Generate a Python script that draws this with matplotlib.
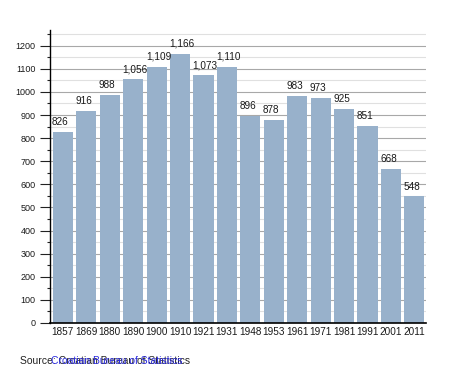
import matplotlib
matplotlib.use("Agg")
import matplotlib.pyplot as plt
from matplotlib.ticker import MultipleLocator

plt.rcParams["font.family"] = ["Liberation Sans", "DejaVu Sans"]

years = ["1857", "1869", "1880", "1890", "1900", "1910", "1921", "1931",
         "1948", "1953", "1961", "1971", "1981", "1991", "2001", "2011"]
population = [826, 916, 988, 1056, 1109, 1166, 1073, 1110,
              896, 878, 983, 973, 925, 851, 668, 548]

BAR_COLOR = "#98b1cb"
WIDTH = 0.86

fig = plt.figure(figsize=(4.55, 3.73), dpi=100)
ax = fig.add_axes([50 / 455, 1 - 323 / 373, 376 / 455, 293 / 373])

x = range(len(years))
ax.bar(x, population, width=WIDTH, color=BAR_COLOR, zorder=2)
# labels sit on the bar's left edge, a little above its top
for i, v in enumerate(population):
    ax.annotate(f"{v:,}", (i - WIDTH / 2, v), xytext=(-0.5, 3.5),
                textcoords="offset points", ha="left", va="bottom",
                fontsize=7.2, color="#1a1a1a", zorder=3)

ax.set_xlim(-0.55, len(years) - 0.5)
ax.set_ylim(0, 1268)
ax.set_xticks(list(x))
ax.set_xticklabels(years, fontsize=7.2, color="#1a1a1a")
ax.tick_params(axis="x", length=0, pad=3)
ax.yaxis.set_major_locator(MultipleLocator(100))
ax.yaxis.set_minor_locator(MultipleLocator(50))
ax.tick_params(axis="y", which="major", length=7.5, labelsize=6.5, width=0.8,
               pad=3, color="#222222", labelcolor="#1a1a1a")
ax.tick_params(axis="y", which="minor", length=2, width=0.8, color="#222222")
ax.grid(axis="y", which="major", color="#a8a8a8", lw=0.8, zorder=0)
ax.grid(axis="y", which="minor", color="#e0e0e0", lw=0.8, zorder=0)
ax.set_axisbelow(True)
for s in ("top", "right"):
    ax.spines[s].set_visible(False)
ax.spines["left"].set_linewidth(1)
ax.spines["bottom"].set_linewidth(1.2)

fig.text(20 / 455, 1 - 361 / 373, "Source: Croatian Bureau of Statistics",
         fontsize=7.5, color="#222222", va="center")
fig.text(51 / 455, 1 - 361 / 373, "Croatian Bureau of Statistics",
         fontsize=7.5, color="#2a2ae0", va="center")

fig.savefig("out.png", dpi=100)
